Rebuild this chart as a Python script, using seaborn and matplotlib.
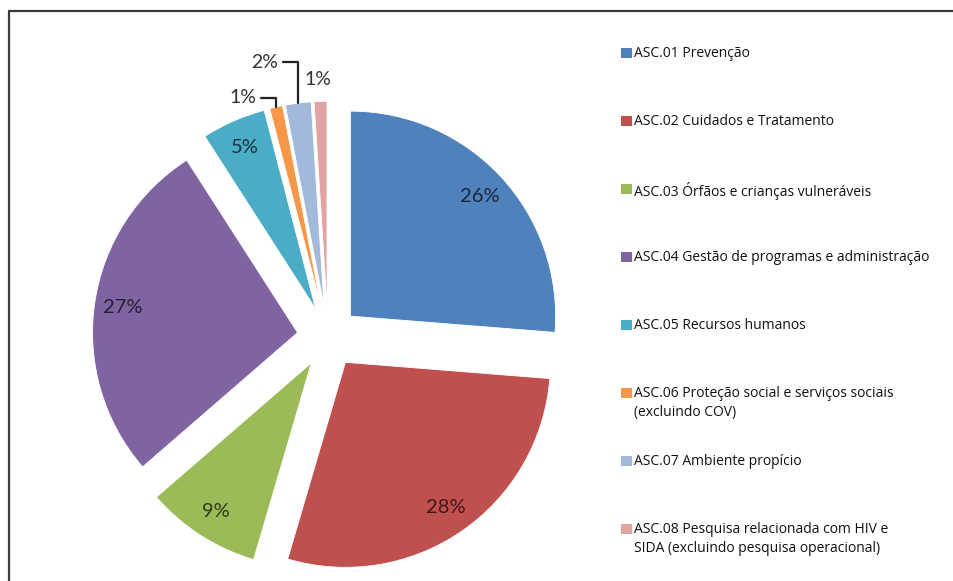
import matplotlib
matplotlib.use("Agg")
import numpy as np
import seaborn as sns
import matplotlib.pyplot as plt
from matplotlib.colors import to_rgb
from matplotlib.lines import Line2D
from matplotlib.patches import Rectangle

# data
categories = [
    "ASC.01 Prevenção",
    "ASC.02 Cuidados e Tratamento",
    "ASC.03 Órfãos e crianças vulneráveis",
    "ASC.04 Gestão de programas e administração",
    "ASC.05 Recursos humanos",
    "ASC.06 Proteção social e serviços sociais\n(excluindo COV)",
    "ASC.07 Ambiente propício",
    "ASC.08 Pesquisa relacionada com HIV e\nSIDA (excluindo pesquisa operacional)",
]
shares = [26, 28, 9, 27, 5, 1, 2, 1]
colors = ["#4F81BD", "#C0504D", "#9BBB59", "#8064A2",
          "#4BACC6", "#F79646", "#A2B9DC", "#E2A3A3"]

sns.set_theme(style="white")
plt.rcParams["font.family"] = ["Lato", "DejaVu Sans"]

W, H = 954, 581
fig = plt.figure(figsize=(W / 100, H / 100), dpi=100)
fig.patch.set_facecolor("white")

# pie axes: centre at (328, 337) px, 205 px per unit radius
cx, cy, r_px, lim = 328, 337, 205, 1.4
side = 2 * lim * r_px
ax = fig.add_axes([(cx - side / 2) / W, (H - cy - side / 2) / H, side / W, side / H])

pal = sns.color_palette(colors)
wedges, _ = ax.pie(
    shares, colors=pal, startangle=90, counterclock=False,
    explode=[0.15] * len(shares), radius=1.0,
    wedgeprops=dict(linewidth=0.6, edgecolor="white"),
)
ax.set_xlim(-lim, lim)
ax.set_ylim(-lim, lim)
ax.set_aspect("equal")
ax.axis("off")

# labels: inside for big slices, outside with leader lines for the small ones
outside = {5: (-0.415, 1.166, True), 6: (-0.307, 1.341, True), 7: (-0.049, 1.254, False)}
for i, (w, v) in enumerate(zip(wedges, shares)):
    mid = np.deg2rad((w.theta1 + w.theta2) / 2)
    ox, oy = w.center
    lab = f"{v}%"
    if i in outside:
        tx, ty, leader = outside[i]
        tip = (ox + w.r * np.cos(mid), oy + w.r * np.sin(mid))
        if leader:
            ax.annotate(lab, xy=tip, xytext=(tx, ty), ha="center", va="center",
                        fontsize=14, color="#333333",
                        arrowprops=dict(arrowstyle="-", color="#222222", lw=1.6,
                                        shrinkA=1, shrinkB=0,
                                        connectionstyle="angle,angleA=0,angleB=90,rad=0"))
        else:
            ax.text(tx, ty, lab, ha="center", va="center", fontsize=14, color="#333333")
    else:
        d = 0.86
        tcol = tuple(c * 0.3 for c in to_rgb(colors[i]))
        ax.text(ox + d * np.cos(mid), oy + d * np.sin(mid), lab, ha="center", va="center",
                fontsize=14.5, color=tcol)

# legend, entries top-aligned at a fixed pitch
for i, (lab, col) in enumerate(zip(categories, colors)):
    top = 48 + 68 * i
    fig.add_artist(Rectangle((621 / W, 1 - (top + 9.5) / H), 11 / W, 9.5 / H,
                             transform=fig.transFigure, facecolor=col, edgecolor="none"))
    fig.text(634 / W, 1 - (top - 2) / H, lab, ha="left", va="top", fontsize=10,
             family=["Open Sans", "DejaVu Sans"], color="#111111", linespacing=1.4)

# frame lines (left and top edges)
fig.add_artist(Line2D([9.5 / W, 9.5 / W], [0, 1 - 11 / H], transform=fig.transFigure,
                      color="#3a3a3a", lw=1.6))
fig.add_artist(Line2D([9.5 / W, 1], [1 - 11 / H, 1 - 11 / H], transform=fig.transFigure,
                      color="#3a3a3a", lw=1.6))

fig.savefig("out.png", dpi=100)
